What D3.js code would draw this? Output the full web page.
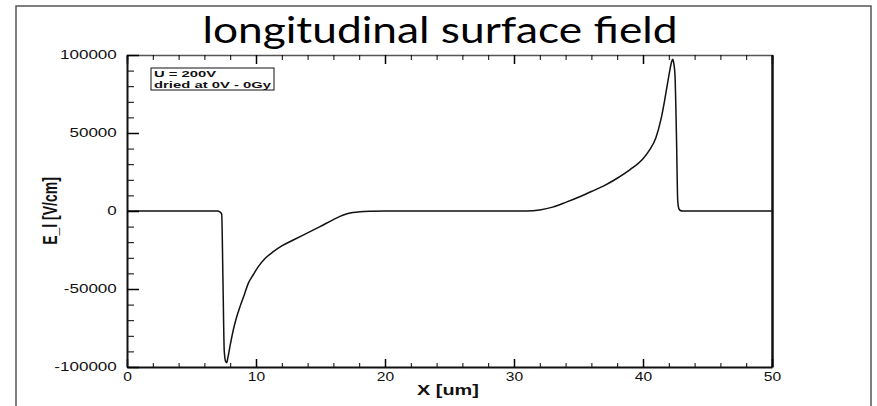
<!DOCTYPE html>
<meta charset="utf-8">
<head>
	<script src="https://cdn.jsdelivr.net/npm/d3@7"></script>
	<style>
		body { margin: 0; background: #fff; }
		.tick text { font-family: "Liberation Sans", Arial, sans-serif; font-size: 12px; fill: #111; }
		.axlabel { font-family: "Liberation Sans", Arial, sans-serif; font-size: 14px; font-weight: bold; fill: #111; }
		.legend text { font-family: "Liberation Sans", Arial, sans-serif; font-size: 9px; font-weight: bold; fill: #111; }
		.title { font-family: Lato, "Open Sans", sans-serif; fill: #000; }
	</style>
</head>
<body>
	<svg id="svg"></svg>
</body>
<script>
	// E_l along the surface
	var xs = [0, 7.0, 7.2, 7.34, 7.44, 7.54, 7.65, 7.73, 7.82, 8.0, 8.24, 8.5, 8.76, 9.1, 9.4, 9.8, 10.18, 10.7, 11.34, 12.0, 12.89, 14.0, 14.96, 16.0, 16.77, 17.5, 18.06, 19.0, 20.0, 25.0,
		31.0, 32.0, 33.0, 34.0, 35.0, 36.0, 37.0, 38.0, 39.0, 40.0, 40.5, 41.0, 41.4, 41.7, 42.0, 42.2, 42.3, 42.4, 42.48, 42.6, 42.69, 42.78, 42.9, 43.05, 50];
	var ys = [0, 0, -500, -2000, -45000, -90000, -96500, -97200, -94000, -86000, -76300, -68000, -61300, -53500, -46400, -40700, -35700, -30500, -26100, -22400, -18600, -14000, -10000, -5500, -2600, -1000, -450, -150, 0, 0,
		0, 700, 2500, 5500, 8800, 12500, 16300, 21000, 26500, 33500, 39000, 47000, 59000, 72000, 86500, 95000, 97200, 94000, 87000, 45500, 7000, 1500, 300, 0, 0];

	var xMajor = [0, 10, 20, 30, 40, 50];
	var xMinor = d3.range(0, 51, 2);
	var yMajor = [-100000, -50000, 0, 50000, 100000];
	var yMinor = d3.range(-100000, 100001, 10000);
	var legendLines = ["U = 200V", "dried at 0V - 0Gy"];

	var width = 877, height = 406;
	var plot = { left: 127, right: 772, top: 55, bottom: 367 };

	var svg = d3.select("#svg")
		.attr("width", width)
		.attr("height", height);

	// outer frame of the slide image
	svg.append("rect")
		.attr("x", 16).attr("y", 6)
		.attr("width", 855).attr("height", 420)
		.attr("fill", "none")
		.attr("stroke", "#555")
		.attr("stroke-width", 1.5);

	var x = d3.scaleLinear().domain([0, 50]).range([plot.left, plot.right]);
	var y = d3.scaleLinear().domain([-100000, 100000]).range([plot.bottom, plot.top]);

	// title
	svg.append("text")
		.attr("class", "title")
		.attr("x", 440)
		.attr("y", 43)
		.attr("text-anchor", "middle")
		.attr("textLength", 475)
		.attr("lengthAdjust", "spacingAndGlyphs")
		.style("font-size", "37px")
		.text("longitudinal surface field");

	// curve
	var line = d3.line()
		.x((d, i) => x(xs[i]))
		.y(d => y(d))
		.curve(d3.curveMonotoneX);

	svg.append("path")
		.datum(ys)
		.attr("fill", "none")
		.attr("stroke", "#111")
		.attr("stroke-width", 1.5)
		.attr("d", line);

	var fmt = d => String(d);

	// top axis (thin, ticks inside)
	svg.append("g")
		.attr("transform", "translate(0," + plot.top + ")")
		.call(d3.axisTop(x).tickValues(xMinor).tickSize(-5).tickFormat(""))
		.call(g => g.select(".domain").attr("stroke", "#555").attr("stroke-width", 1.5));
	svg.append("g")
		.attr("transform", "translate(0," + plot.top + ")")
		.call(d3.axisTop(x).tickValues(xMajor).tickSize(-9).tickFormat(""))
		.call(g => g.select(".domain").remove())
		.call(g => g.selectAll("line").attr("stroke-width", 1.5));

	// right border
	svg.append("g")
		.attr("transform", "translate(" + plot.right + ",0)")
		.call(d3.axisRight(y).tickValues([]).tickSizeOuter(0))
		.call(g => g.select(".domain").attr("stroke", "#111").attr("stroke-width", 2.5));

	// bottom axis
	svg.append("g")
		.attr("transform", "translate(0," + plot.bottom + ")")
		.call(d3.axisBottom(x).tickValues(xMinor).tickSize(-4).tickFormat(""))
		.call(g => g.select(".domain").remove());
	svg.append("g")
		.attr("transform", "translate(0," + plot.bottom + ")")
		.call(d3.axisBottom(x).tickValues(xMajor).tickSize(-8).tickSizeOuter(0).tickPadding(5).tickFormat(fmt))
		.call(g => g.select(".domain").attr("stroke", "#111").attr("stroke-width", 2))
		.call(g => g.selectAll("line").attr("stroke-width", 1.5))
		.call(g => g.selectAll("text").attr("transform", "scale(1.3,1)"));

	// left axis
	svg.append("g")
		.attr("transform", "translate(" + plot.left + ",0)")
		.call(d3.axisLeft(y).tickValues(yMinor).tickSize(-7).tickFormat(""))
		.call(g => g.select(".domain").remove());
	svg.append("g")
		.attr("transform", "translate(" + plot.left + ",0)")
		.call(d3.axisLeft(y).tickValues(yMajor).tickSize(-12).tickSizeOuter(0).tickFormat(fmt))
		.call(g => g.select(".domain").attr("stroke", "#111").attr("stroke-width", 2))
		.call(g => g.selectAll("line").attr("stroke-width", 1.5))
		.call(g => g.selectAll("text").attr("x", -7.2).attr("transform", "scale(1.42,1)"));

	// axis titles
	svg.append("text")
		.attr("class", "axlabel")
		.attr("transform", "translate(448,395) scale(1.42,1)")
		.attr("text-anchor", "middle")
		.text("X [um]");

	svg.append("text")
		.attr("class", "axlabel")
		.attr("transform", "translate(57,211) scale(1.4,1) rotate(-90)")
		.attr("text-anchor", "middle")
		.text("E_l [V/cm]");

	// text box
	var legend = svg.append("g").attr("class", "legend");
	legend.append("rect")
		.attr("x", 151).attr("y", 68)
		.attr("width", 123).attr("height", 22)
		.attr("fill", "#fff")
		.attr("stroke", "#111")
		.attr("stroke-width", 1);
	legend.selectAll("text")
		.data(legendLines)
		.enter()
		.append("text")
		.attr("transform", (d, i) => "translate(154," + (77 + i * 10.5) + ") scale(1.65,1)")
		.text(d => d);
</script>
